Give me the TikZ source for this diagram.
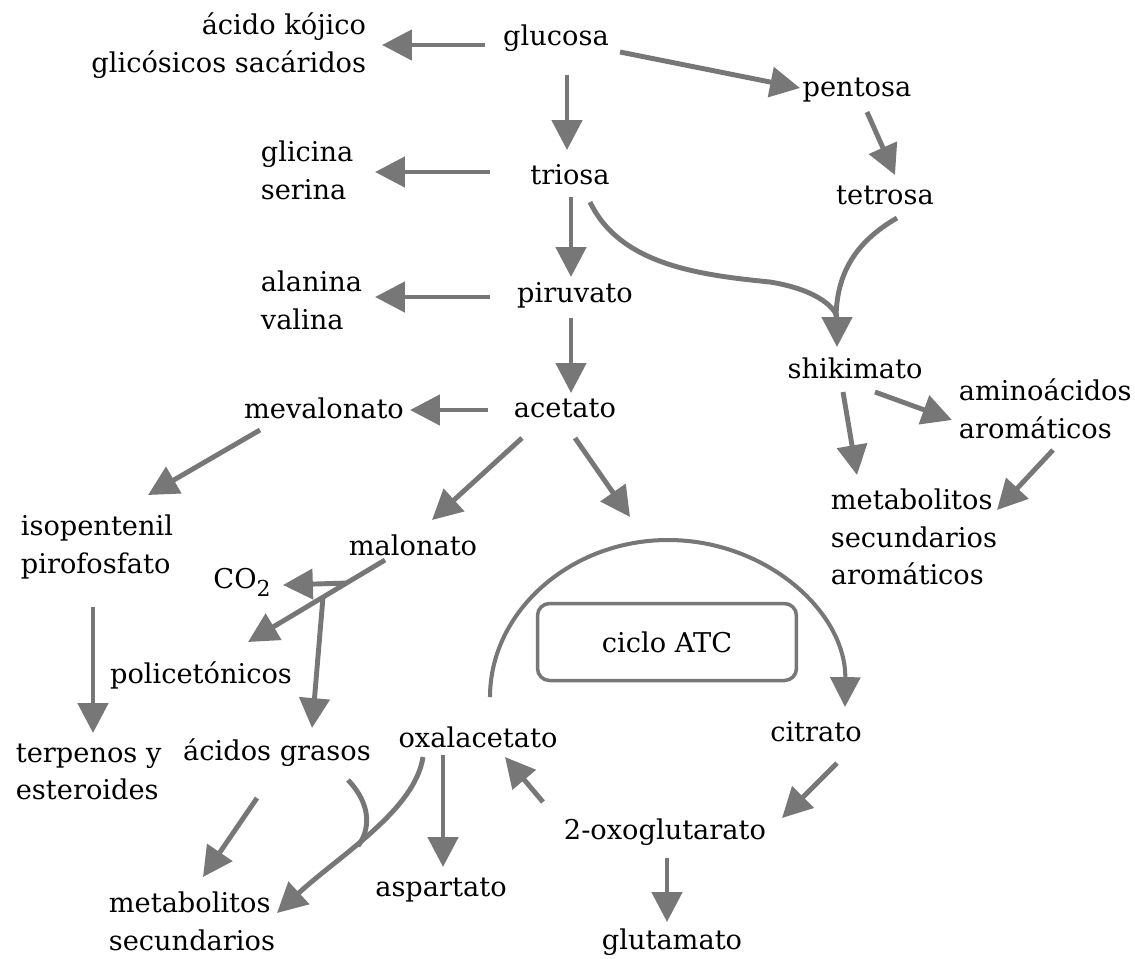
\documentclass[tikz,border=0pt]{standalone}
\usepackage{fontspec}
\setmainfont{DejaVu Serif}
\usetikzlibrary{arrows.meta}
\definecolor{gris}{HTML}{777777}

\begin{document}
\begin{tikzpicture}[x=0.02cm,y=-0.02cm,
    compuesto/.style={inner sep=2pt,font=\fontsize{15.5}{21.5}\selectfont},
    flecha/.style={color=gris,line width=2.8pt,-{Triangle[length=17pt,width=17pt]}},
    linea/.style={color=gris,line width=2.8pt}]
    \useasboundingbox (0,0) rectangle (1135,958);

    % compuestos
    \node[compuesto] (glucosa) at (556,38) {glucosa};
    \node[compuesto,anchor=east,align=right] (kojico) at (370,46) {ácido kójico\\glicósicos sacáridos};
    \node[compuesto] (pentosa) at (857,90) {pentosa};
    \node[compuesto] (triosa) at (570,175) {triosa};
    \node[compuesto,anchor=west,align=left] (glicina) at (257,170) {glicina\\serina};
    \node[compuesto] (tetrosa) at (885,195) {tetrosa};
    \node[compuesto,anchor=west,align=left] (alanina) at (257,300) {alanina\\valina};
    \node[compuesto] (piruvato) at (575,295) {piruvato};
    \node[compuesto] (shikimato) at (855,368) {shikimato};
    \node[compuesto] (acetato) at (565,408) {acetato};
    \node[compuesto] (mevalonato) at (324,408) {mevalonato};
    \node[compuesto,anchor=west,align=left] (aromaticos) at (955,409) {aminoácidos\\aromáticos};
    \node[compuesto,anchor=west,align=left] (metabaro) at (827,537) {metabolitos\\secundarios\\aromáticos};
    \node[compuesto,anchor=west,align=left] (isopentenil) at (17,547) {isopentenil\\pirofosfato};
    \node[compuesto] (malonato) at (413,545) {malonato};
    \node[compuesto] (co2) at (242,582) {CO\raisebox{-0.55ex}{\fontsize{12.5}{12}\selectfont 2}};
    \node[compuesto] (policetonicos) at (201,675) {policetónicos};
    \node[compuesto,draw=gris,line width=2pt,rounded corners=0.24cm,
          minimum width=5.18cm,minimum height=1.54cm] (ciclo) at (667,642) {ciclo ATC};
    \node[compuesto,anchor=west,align=left] (terpenos) at (12,772) {terpenos y\\esteroides};
    \node[compuesto] (grasos) at (277,753) {ácidos grasos};
    \node[compuesto] (oxalacetato) at (478,737) {oxalacetato};
    \node[compuesto] (citrato) at (816,732) {citrato};
    \node[compuesto] (oxoglutarato) at (665,832) {2-oxoglutarato};
    \node[compuesto] (aspartato) at (441,890) {aspartato};
    \node[compuesto,anchor=west,align=left] (metabsec) at (105,921) {metabolitos\\secundarios};
    \node[compuesto] (glutamato) at (672,942) {glutamato};

    \coordinate (entrada) at (630,517);
    \coordinate (union) at (836,320);
    \coordinate (bco2) at (347,583);
    \coordinate (bgrasos) at (323,597);
    \coordinate (union2) at (358,846);

    % flechas rectas
    \draw[flecha] ([shift={(-71,7)}]glucosa.center) -- ([shift={(12,-1)}]kojico.east);
    \draw[flecha] ([shift={(64,14)}]glucosa.center) -- ([shift={(-57,-2)}]pentosa.center);
    \draw[flecha] ([shift={(11,37)}]glucosa.center) -- ([shift={(-3,-25)}]triosa.center);
    \draw[flecha] ([shift={(-80,-3)}]triosa.center) -- ([shift={(118,2)}]glicina.west);
    \draw[flecha] ([shift={(10,22)}]pentosa.center) -- ([shift={(10,-20)}]tetrosa.center);
    \draw[flecha] ([shift={(1,22)}]triosa.center) -- ([shift={(-4,-18)}]piruvato.center);
    \draw[flecha] ([shift={(-85,2)}]piruvato.center) -- ([shift={(118,-3)}]alanina.west);
    \draw[flecha] ([shift={(-4,23)}]piruvato.center) -- ([shift={(6,-15)}]acetato.center);
    \draw[flecha] ([shift={(-77,2)}]acetato.center) -- ([shift={(86,2)}]mevalonato.center);
    \draw[flecha] ([shift={(-64,22)}]mevalonato.center) -- ([shift={(131,-52)}]isopentenil.west);
    \draw[flecha] ([shift={(-43,30)}]acetato.center) -- ([shift={(19,-25)}]malonato.center);
    \draw[flecha] ([shift={(10,30)}]acetato.center) -- (entrada);
    \draw[flecha] ([shift={(20,24)}]shikimato.center) -- ([shift={(-3,11)}]aromaticos.west);
    \draw[flecha] ([shift={(-12,24)}]shikimato.center) -- ([shift={(30,-62)}]metabaro.west);
    \draw[flecha] ([shift={(98,41)}]aromaticos.west) -- ([shift={(170,-27)}]metabaro.west);
    \draw[flecha] ([shift={(-28,15)}]malonato.center) -- ([shift={(47,-33)}]policetonicos.center);
    \draw[flecha] (bco2) -- ([shift={(41,3)}]co2.center);
    \draw[flecha] (bgrasos) -- ([shift={(35,-25)}]grasos.center);
    \draw[flecha] ([shift={(76,60)}]isopentenil.west) -- ([shift={(81,-39)}]terpenos.west);
    \draw[flecha] ([shift={(-20,45)}]grasos.center) -- ([shift={(98,-44)}]metabsec.west);
    \draw[flecha] ([shift={(-35,18)}]oxalacetato.center) -- ([shift={(2,-23)}]aspartato.center);
    \draw[flecha] ([shift={(-122,-30)}]oxoglutarato.center) -- ([shift={(27,20)}]oxalacetato.center);
    \draw[flecha] ([shift={(21,31)}]citrato.center) -- ([shift={(117,-14)}]oxoglutarato.center);
    \draw[flecha] ([shift={(2,26)}]oxoglutarato.center) -- ([shift={(-5,-20)}]glutamato.center);

    % curvas
    \draw[flecha] ([shift={(20,27)}]triosa.center) .. controls (620,265) and (700,275) .. (770,282)
        .. controls (820,290) and (837,310) .. ([shift={(-18,-21)}]shikimato.center);
    \draw[linea] ([shift={(12,23)}]tetrosa.center) .. controls (850,245) and (836,280) .. (union);
    \draw[flecha] ([shift={(-55,20)}]oxalacetato.center) .. controls (415,810) and (340,855) .. ([shift={(172,-8)}]metabsec.west);
    \draw[linea] ([shift={(71,27)}]grasos.center) .. controls (372,805) and (370,830) .. (union2);

    % ciclo
    \draw[flecha,line width=2.3pt] ([shift={(12,-40)}]oxalacetato.center) .. controls (490,612) and (570,540) .. (668,540)
        .. controls (766,540) and (846,612) .. ([shift={(29,-25)}]citrato.center);

\end{tikzpicture}
\end{document}
